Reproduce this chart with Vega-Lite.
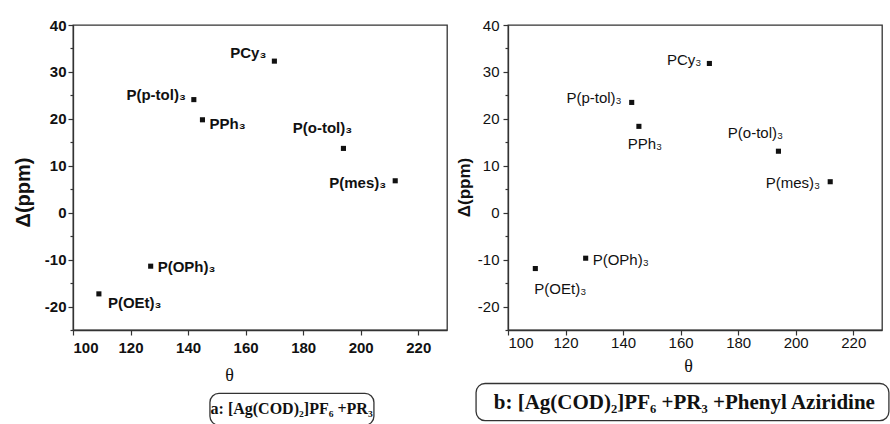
{
  "$schema": "https://vega.github.io/schema/vega-lite/v6.json",
  "background": "white",
  "padding": {"left": 12, "top": 17, "right": 0, "bottom": 0},
  "bounds": "flush",
  "spacing": 61,
  "datasets": {
    "a": [
      {"theta": 170, "delta": 32.3, "ligand": "PCy₃"},
      {"theta": 142, "delta": 24.1, "ligand": "P(p-tol)₃"},
      {"theta": 145, "delta": 19.8, "ligand": "PPh₃"},
      {"theta": 194, "delta": 13.7, "ligand": "P(o-tol)₃"},
      {"theta": 212, "delta": 6.8, "ligand": "P(mes)₃"},
      {"theta": 127, "delta": -11.4, "ligand": "P(OPh)₃"},
      {"theta": 109, "delta": -17.3, "ligand": "P(OEt)₃"}
    ],
    "b": [
      {"theta": 170, "delta": 31.8, "ligand": "PCy₃"},
      {"theta": 143, "delta": 23.5, "ligand": "P(p-tol)₃"},
      {"theta": 145.5, "delta": 18.4, "ligand": "PPh₃"},
      {"theta": 194, "delta": 13.1, "ligand": "P(o-tol)₃"},
      {"theta": 212, "delta": 6.6, "ligand": "P(mes)₃"},
      {"theta": 127, "delta": -9.7, "ligand": "P(OPh)₃"},
      {"theta": 109.5, "delta": -11.9, "ligand": "P(OEt)₃"}
    ],
    "capA": [{"caption": "a: [Ag(COD)₂]PF₆ +PR₃"}],
    "capB": [{"caption": "b: [Ag(COD)₂]PF₆ +PR₃ +Phenyl Aziridine"}]
  },
  "config": {
    "view": {"stroke": "#333", "strokeWidth": 1.3},
    "axis": {"domainColor": "#333", "domainWidth": 1.3, "tickColor": "#333", "tickWidth": 1.2, "labelColor": "#111", "titleColor": "#111", "grid": false}
  },
  "hconcat": [
    {
      "width": 374,
      "height": 305,
      "data": {"name": "a"},
      "layer": [
        {
          "mark": {"type": "point", "shape": "square", "filled": true, "size": 26, "color": "#111", "opacity": 1},
          "encoding": {
            "x": {
              "field": "theta", "type": "quantitative",
              "scale": {"domain": [100, 230], "nice": false, "zero": false},
              "axis": {
                "title": "θ",
                "values": [100, 110, 120, 130, 140, 150, 160, 170, 180, 190, 200, 210, 220, 230],
                "labelExpr": "datum.value % 20 === 0 ? '' + datum.value : ''",
                "labelOverlap": false,
                "tickSize": {"condition": {"test": "datum.value % 20 !== 0", "value": 3}, "value": 5},
                "labelFont": "Liberation Sans", "labelFontWeight": "bold", "labelFontSize": 15, "labelPadding": 5,
                "titleFont": "Liberation Serif", "titleFontWeight": "normal", "titleFontSize": 18,
                "titleX": 156, "titleY": 45, "titleBaseline": "middle"
              }
            },
            "y": {
              "field": "delta", "type": "quantitative",
              "scale": {"domain": [-25, 40], "nice": false, "zero": false},
              "axis": {
                "title": "Δ(ppm)",
                "tickCount": 14,
                "labelExpr": "datum.value % 10 === 0 ? '' + datum.value : ''",
                "labelOverlap": false,
                "tickSize": {"condition": {"test": "datum.value % 10 !== 0", "value": 3}, "value": 5},
                "labelFont": "Liberation Sans", "labelFontWeight": "bold", "labelFontSize": 15, "labelPadding": 2,
                "titleFont": "Liberation Sans", "titleFontWeight": "bold", "titleFontSize": 20,
                "titleX": -50, "titleY": 167, "titleBaseline": "middle"
              }
            }
          }
        },
        {
          "transform": [{"filter": "datum.ligand === 'PCy₃'"}],
          "mark": {"type": "text", "align": "right", "baseline": "middle", "dx": -8, "dy": -8, "font": "Liberation Sans", "fontWeight": "bold", "fontSize": 15, "color": "#111"},
          "encoding": {"x": {"field": "theta", "type": "quantitative"}, "y": {"field": "delta", "type": "quantitative"}, "text": {"field": "ligand"}}
        },
        {
          "transform": [{"filter": "datum.ligand === 'P(p-tol)₃'"}],
          "mark": {"type": "text", "align": "right", "baseline": "middle", "dx": -8, "dy": -5, "font": "Liberation Sans", "fontWeight": "bold", "fontSize": 15, "color": "#111"},
          "encoding": {"x": {"field": "theta", "type": "quantitative"}, "y": {"field": "delta", "type": "quantitative"}, "text": {"field": "ligand"}}
        },
        {
          "transform": [{"filter": "datum.ligand === 'PPh₃'"}],
          "mark": {"type": "text", "align": "left", "baseline": "middle", "dx": 7, "dy": 4, "font": "Liberation Sans", "fontWeight": "bold", "fontSize": 15, "color": "#111"},
          "encoding": {"x": {"field": "theta", "type": "quantitative"}, "y": {"field": "delta", "type": "quantitative"}, "text": {"field": "ligand"}}
        },
        {
          "transform": [{"filter": "datum.ligand === 'P(o-tol)₃'"}],
          "mark": {"type": "text", "align": "center", "baseline": "middle", "dx": -21, "dy": -20, "font": "Liberation Sans", "fontWeight": "bold", "fontSize": 15, "color": "#111"},
          "encoding": {"x": {"field": "theta", "type": "quantitative"}, "y": {"field": "delta", "type": "quantitative"}, "text": {"field": "ligand"}}
        },
        {
          "transform": [{"filter": "datum.ligand === 'P(mes)₃'"}],
          "mark": {"type": "text", "align": "right", "baseline": "middle", "dx": -9, "dy": 2, "font": "Liberation Sans", "fontWeight": "bold", "fontSize": 15, "color": "#111"},
          "encoding": {"x": {"field": "theta", "type": "quantitative"}, "y": {"field": "delta", "type": "quantitative"}, "text": {"field": "ligand"}}
        },
        {
          "transform": [{"filter": "datum.ligand === 'P(OPh)₃'"}],
          "mark": {"type": "text", "align": "left", "baseline": "middle", "dx": 7, "dy": 1, "font": "Liberation Sans", "fontWeight": "bold", "fontSize": 15, "color": "#111"},
          "encoding": {"x": {"field": "theta", "type": "quantitative"}, "y": {"field": "delta", "type": "quantitative"}, "text": {"field": "ligand"}}
        },
        {
          "transform": [{"filter": "datum.ligand === 'P(OEt)₃'"}],
          "mark": {"type": "text", "align": "left", "baseline": "middle", "dx": 9, "dy": 9, "font": "Liberation Sans", "fontWeight": "bold", "fontSize": 15, "color": "#111"},
          "encoding": {"x": {"field": "theta", "type": "quantitative"}, "y": {"field": "delta", "type": "quantitative"}, "text": {"field": "ligand"}}
        },
        {
          "data": {"name": "capA"},
          "mark": {"type": "rect", "fill": "white", "fillOpacity": 0, "stroke": "#333", "strokeWidth": 1.3, "cornerRadius": 9},
          "encoding": {
            "x": {"datum": 147.6, "type": "quantitative"},
            "x2": {"datum": 204.6},
            "y": {"datum": -38.5, "type": "quantitative"},
            "y2": {"datum": -45.3}
          }
        },
        {
          "data": {"name": "capA"},
          "mark": {"type": "text", "align": "center", "baseline": "middle", "font": "Liberation Serif", "fontWeight": "bold", "fontSize": 16, "color": "#111"},
          "encoding": {
            "x": {"datum": 176, "type": "quantitative"},
            "y": {"datum": -41.9, "type": "quantitative"},
            "text": {"field": "caption"}
          }
        }
      ]
    },
    {
      "width": 374,
      "height": 305,
      "data": {"name": "b"},
      "layer": [
        {
          "mark": {"type": "point", "shape": "square", "filled": true, "size": 26, "color": "#111", "opacity": 1},
          "encoding": {
            "x": {
              "field": "theta", "type": "quantitative",
              "scale": {"domain": [100, 230], "nice": false, "zero": false},
              "axis": {
                "title": "θ",
                "values": [100, 110, 120, 130, 140, 150, 160, 170, 180, 190, 200, 210, 220, 230],
                "labelExpr": "datum.value % 20 === 0 ? '' + datum.value : ''",
                "labelOverlap": false,
                "tickSize": {"condition": {"test": "datum.value % 20 !== 0", "value": 3}, "value": 5},
                "labelFont": "Liberation Sans", "labelFontWeight": "normal", "labelFontSize": 15, "labelPadding": 0,
                "titleFont": "Liberation Serif", "titleFontWeight": "normal", "titleFontSize": 18,
                "titleX": 180, "titleY": 36, "titleBaseline": "middle"
              }
            },
            "y": {
              "field": "delta", "type": "quantitative",
              "scale": {"domain": [-25, 40], "nice": false, "zero": false},
              "axis": {
                "title": "Δ(ppm)",
                "tickCount": 14,
                "labelExpr": "datum.value % 10 === 0 ? '' + datum.value : ''",
                "labelOverlap": false,
                "tickSize": {"condition": {"test": "datum.value % 10 !== 0", "value": 3}, "value": 5},
                "labelFont": "Liberation Sans", "labelFontWeight": "normal", "labelFontSize": 15, "labelPadding": 4,
                "titleFont": "Liberation Sans", "titleFontWeight": "bold", "titleFontSize": 17,
                "titleX": -43.5, "titleY": 162, "titleBaseline": "middle"
              }
            }
          }
        },
        {
          "transform": [{"filter": "datum.ligand === 'PCy₃'"}],
          "mark": {"type": "text", "align": "right", "baseline": "middle", "dx": -8, "dy": -3, "font": "Liberation Sans", "fontSize": 15, "color": "#111"},
          "encoding": {"x": {"field": "theta", "type": "quantitative"}, "y": {"field": "delta", "type": "quantitative"}, "text": {"field": "ligand"}}
        },
        {
          "transform": [{"filter": "datum.ligand === 'P(p-tol)₃'"}],
          "mark": {"type": "text", "align": "right", "baseline": "middle", "dx": -10, "dy": -4, "font": "Liberation Sans", "fontSize": 15, "color": "#111"},
          "encoding": {"x": {"field": "theta", "type": "quantitative"}, "y": {"field": "delta", "type": "quantitative"}, "text": {"field": "ligand"}}
        },
        {
          "transform": [{"filter": "datum.ligand === 'PPh₃'"}],
          "mark": {"type": "text", "align": "center", "baseline": "middle", "dx": 6, "dy": 18, "font": "Liberation Sans", "fontSize": 15, "color": "#111"},
          "encoding": {"x": {"field": "theta", "type": "quantitative"}, "y": {"field": "delta", "type": "quantitative"}, "text": {"field": "ligand"}}
        },
        {
          "transform": [{"filter": "datum.ligand === 'P(o-tol)₃'"}],
          "mark": {"type": "text", "align": "center", "baseline": "middle", "dx": -23, "dy": -18, "font": "Liberation Sans", "fontSize": 15, "color": "#111"},
          "encoding": {"x": {"field": "theta", "type": "quantitative"}, "y": {"field": "delta", "type": "quantitative"}, "text": {"field": "ligand"}}
        },
        {
          "transform": [{"filter": "datum.ligand === 'P(mes)₃'"}],
          "mark": {"type": "text", "align": "right", "baseline": "middle", "dx": -10, "dy": 1, "font": "Liberation Sans", "fontSize": 15, "color": "#111"},
          "encoding": {"x": {"field": "theta", "type": "quantitative"}, "y": {"field": "delta", "type": "quantitative"}, "text": {"field": "ligand"}}
        },
        {
          "transform": [{"filter": "datum.ligand === 'P(OPh)₃'"}],
          "mark": {"type": "text", "align": "left", "baseline": "middle", "dx": 7, "dy": 2, "font": "Liberation Sans", "fontSize": 15, "color": "#111"},
          "encoding": {"x": {"field": "theta", "type": "quantitative"}, "y": {"field": "delta", "type": "quantitative"}, "text": {"field": "ligand"}}
        },
        {
          "transform": [{"filter": "datum.ligand === 'P(OEt)₃'"}],
          "mark": {"type": "text", "align": "center", "baseline": "middle", "dx": 25, "dy": 20, "font": "Liberation Sans", "fontSize": 15, "color": "#111"},
          "encoding": {"x": {"field": "theta", "type": "quantitative"}, "y": {"field": "delta", "type": "quantitative"}, "text": {"field": "ligand"}}
        },
        {
          "data": {"name": "capB"},
          "mark": {"type": "rect", "fill": "white", "fillOpacity": 0, "stroke": "#333", "strokeWidth": 1.3, "cornerRadius": 9},
          "encoding": {
            "x": {"datum": 88.9, "type": "quantitative"},
            "x2": {"datum": 232.4},
            "y": {"datum": -36.4, "type": "quantitative"},
            "y2": {"datum": -44.3}
          }
        },
        {
          "data": {"name": "capB"},
          "mark": {"type": "text", "align": "center", "baseline": "middle", "font": "Liberation Serif", "fontWeight": "bold", "fontSize": 21, "color": "#111"},
          "encoding": {
            "x": {"datum": 161.3, "type": "quantitative"},
            "y": {"datum": -40.5, "type": "quantitative"},
            "text": {"field": "caption"}
          }
        }
      ]
    }
  ]
}
